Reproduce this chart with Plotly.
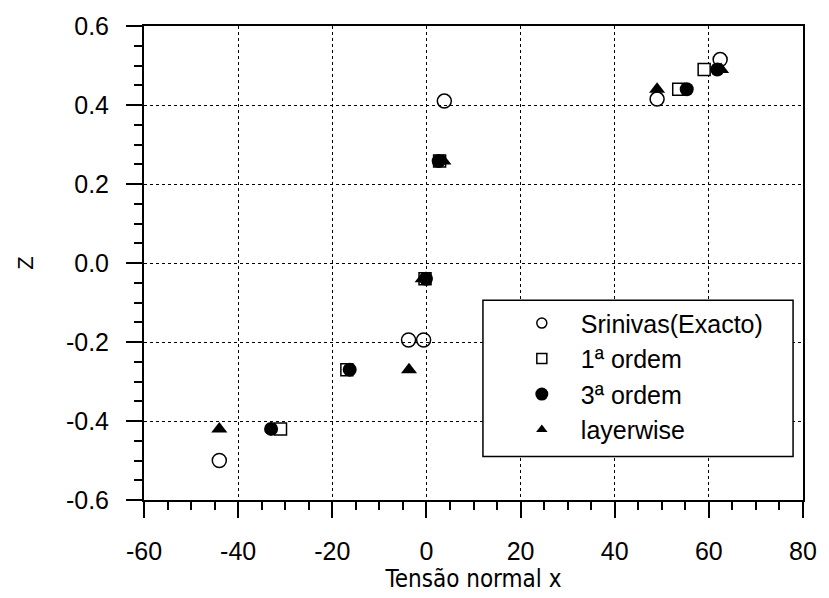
import plotly.graph_objects as go

# --- data ---
srinivas_x = [-44.0, -3.8, -0.6, 3.8, 49.0, 62.4]
srinivas_z = [-0.50, -0.195, -0.195, 0.41, 0.415, 0.515]

ordem1_x = [-31.0, -16.9, -0.3, 2.8, 53.6, 59.0]
ordem1_z = [-0.42, -0.27, -0.04, 0.258, 0.44, 0.49]

ordem3_x = [-33.0, -16.3, -0.1, 2.6, 55.3, 61.8]
ordem3_z = [-0.42, -0.27, -0.04, 0.258, 0.44, 0.49]

layer_x = [-44.0, -3.7, -0.8, 3.6, 49.0, 62.6]
layer_z = [-0.42, -0.27, -0.04, 0.258, 0.44, 0.49]

names = ["Srinivas(Exacto)", "1ª ordem", "3ª ordem", "layerwise"]

xticks = [-60, -40, -20, 0, 20, 40, 60, 80]
xtick_text = ["-60", "-40", "-20", "0", "20", "40", "60", "80"]
yticks = [-0.6, -0.4, -0.2, 0.0, 0.2, 0.4, 0.6]
ytick_text = ["-0.6", "-0.4", "-0.2", "0.0", "0.2", "0.4", "0.6"]

BLACK = "#000000"
FONT = "Liberation Sans, Arial, Helvetica, sans-serif"
NARROW = "Liberation Sans Narrow, Arial Narrow, DejaVu Sans Condensed, sans-serif"

series = [
    (srinivas_x, srinivas_z, dict(symbol="circle-open", size=14, color=BLACK, line=dict(width=1.5, color=BLACK))),
    (ordem1_x, ordem1_z, dict(symbol="square", size=12, color="white", line=dict(width=1.5, color=BLACK))),
    (ordem3_x, ordem3_z, dict(symbol="circle", size=14, color=BLACK, line=dict(width=0, color=BLACK))),
    (layer_x, layer_z, dict(symbol="triangle-up", size=14, color=BLACK, line=dict(width=0, color=BLACK))),
]
legend_markers = [
    dict(symbol="circle-open", size=10, color=BLACK, line=dict(width=1.5, color=BLACK)),
    dict(symbol="square", size=10, color="white", line=dict(width=1.5, color=BLACK)),
    dict(symbol="circle", size=13, color=BLACK),
    dict(symbol="triangle-up", size=10, color=BLACK),
]

fig = go.Figure()
for (xs, zs, mk), name in zip(series, names):
    fig.add_trace(go.Scatter(x=xs, y=zs, mode="markers", marker=mk, name=name,
                             showlegend=False, cliponaxis=False))
for i, (name, mk) in enumerate(zip(names, legend_markers)):
    fig.add_trace(go.Scatter(x=[None], y=[None], mode="markers", marker=mk, name=name,
                             legendgroup="g%d" % i, showlegend=True))

axis_common = dict(
    showline=True, linecolor=BLACK, linewidth=2, mirror=True,
    ticks="outside", ticklen=16, tickwidth=1.5, tickcolor=BLACK,
    showgrid=True, gridcolor=BLACK, gridwidth=1.2, griddash="dot",
    zeroline=False, ticklabeloverflow="allow",
    tickfont=dict(family=FONT, size=25, color=BLACK),
)

fig.update_xaxes(
    range=[-60, 80], tickvals=xticks, ticktext=xtick_text, ticklabelstandoff=12,
    minor=dict(dtick=5, ticks="outside", ticklen=8, tickwidth=1.5, tickcolor=BLACK, showgrid=False),
    title=dict(text="Tensão normal x", font=dict(family=NARROW, size=24, color=BLACK), standoff=4),
    **axis_common,
)
fig.update_yaxes(
    range=[-0.6, 0.6], tickvals=yticks, ticktext=ytick_text, ticklabelstandoff=12,
    minor=dict(dtick=0.05, ticks="outside", ticklen=8, tickwidth=1.5, tickcolor=BLACK, showgrid=False),
    title=dict(text="Z", font=dict(family=FONT, size=22, color=BLACK), standoff=26),
    **axis_common,
)

fig.add_shape(type="rect", xref="paper", yref="paper",
              x0=(485 - 144) / 663, x1=(797 - 144) / 663,
              y0=(503 - 458) / 489, y1=(503 - 297) / 489,
              line=dict(color=BLACK, width=1.5), fillcolor="white", layer="above")

fig.update_layout(
    width=829, height=598,
    margin=dict(l=144, r=22, t=14, b=95),
    paper_bgcolor="white", plot_bgcolor="white",
    showlegend=True,
    legend=dict(x=(505 - 144) / 663, y=(503 - 297) / 489, xanchor="left", yanchor="top",
                bgcolor="rgba(0,0,0,0)", borderwidth=0,
                font=dict(family=FONT, size=25, color=BLACK),
                tracegroupgap=0, itemwidth=68),
)

fig.write_html("out.html")
